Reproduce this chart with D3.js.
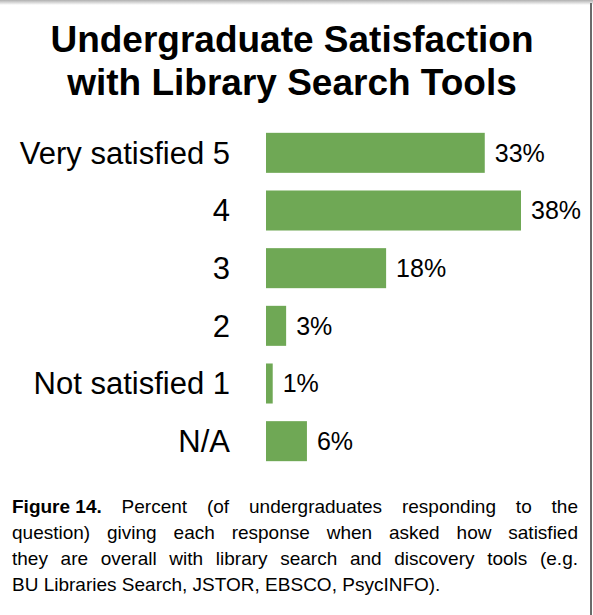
<!DOCTYPE html>
<html><head><meta charset="utf-8">
<script src="https://cdn.jsdelivr.net/npm/d3@7"></script>
<style>html,body{margin:0;padding:0;background:#fff;}svg{display:block;}</style>
</head><body>
<svg id="chart" width="593" height="615"></svg>
<script>
const titleLines = ["Undergraduate Satisfaction", "with Library Search Tools"];
const categories = ["Very satisfied 5", "4", "3", "2", "Not satisfied 1", "N/A"];
const values = [32.6, 38, 17.9, 3, 1, 6.1];
const captionBold = "Figure 14.";
const captionLines = [
  " Percent (of undergraduates responding to the",
  "question) giving each response when asked how satisfied",
  "they are overall with library search and discovery tools (e.g.",
  "BU Libraries Search, JSTOR, EBSCO, PsycINFO)."
];

const W = 593, H = 615;
const svg = d3.select("#chart");
const font = "'Liberation Sans', Arial, Helvetica, sans-serif";

// frame: top shadow and right border
const defs = svg.append("defs");
const g1 = defs.append("linearGradient").attr("id","topShade").attr("x1",0).attr("y1",0).attr("x2",0).attr("y2",1);
g1.append("stop").attr("offset","0%").attr("stop-color","#b0b0b0");
g1.append("stop").attr("offset","100%").attr("stop-color","#ffffff");
svg.append("rect").attr("x",0).attr("y",0).attr("width",W).attr("height",5).attr("fill","url(#topShade)");
svg.append("line").attr("x1",591).attr("x2",591).attr("y1",3).attr("y2",H).attr("stroke","#6a6a6a").attr("stroke-width",2);

// title
svg.append("g").selectAll("text").data(titleLines).join("text")
  .attr("x", 292).attr("y", (d,i)=> 52 + i*43)
  .attr("text-anchor","middle")
  .attr("font-family", font).attr("font-weight","bold").attr("font-size",37)
  .attr("fill","#000").text(d=>d);

// scales
const x = d3.scaleLinear().domain([0, 38]).range([266, 521]);
const y = d3.scaleBand().domain(categories).range([124, 470]).paddingInner(0.306).paddingOuter(0.153);

svg.append("g").selectAll("rect").data(values).join("rect")
  .attr("x", x(0)).attr("y", (d,i)=> y(categories[i]))
  .attr("width", d=> x(d)-x(0)).attr("height", y.bandwidth())
  .attr("fill","#6fa855");

svg.append("g").selectAll("text").data(values).join("text")
  .attr("x", d=> x(d) + 10).attr("y", (d,i)=> y(categories[i]) + y.bandwidth()/2)
  .attr("dy","0.35em")
  .attr("font-family", font).attr("font-size",25).attr("fill","#000")
  .text(d=> d3.format(".0f")(d) + "%");

// category axis (no line/ticks)
const axis = d3.axisLeft(y).tickSize(0).tickPadding(0);
const ag = svg.append("g").attr("transform","translate(230,0)").call(axis);
ag.select(".domain").remove();
ag.selectAll("text").attr("font-family", font).attr("font-size",31).attr("fill","#000").attr("dy","0.35em");

// caption (justified)
const capX0 = 12, capX1 = 578, capY0 = 513, capLH = 26, capFS = 19;
captionLines.forEach((line, i) => {
  const t = svg.append("text").attr("y", capY0 + i*capLH)
    .attr("font-family", font).attr("font-size",capFS).attr("fill","#000");
  const words = [];
  if (i === 0) words.push({w: captionBold, b: true});
  line.trim().split(" ").forEach(w => words.push({w, b:false}));
  const justify = i < captionLines.length - 1;
  const tmp = svg.append("text").attr("font-family", font).attr("font-size",capFS);
  const widths = words.map(o => { tmp.attr("font-weight", o.b?"bold":"normal").text(o.w); return tmp.node().getComputedTextLength(); });
  tmp.remove();
  const total = d3.sum(widths);
  const gap = justify ? (capX1 - capX0 - total) / (words.length - 1) : capFS*0.278;
  let cx = capX0;
  words.forEach((o, k) => {
    t.append("tspan").attr("x", cx).attr("font-weight", o.b?"bold":"normal").text(o.w);
    cx += widths[k] + gap;
  });
});
</script>
</body></html>
